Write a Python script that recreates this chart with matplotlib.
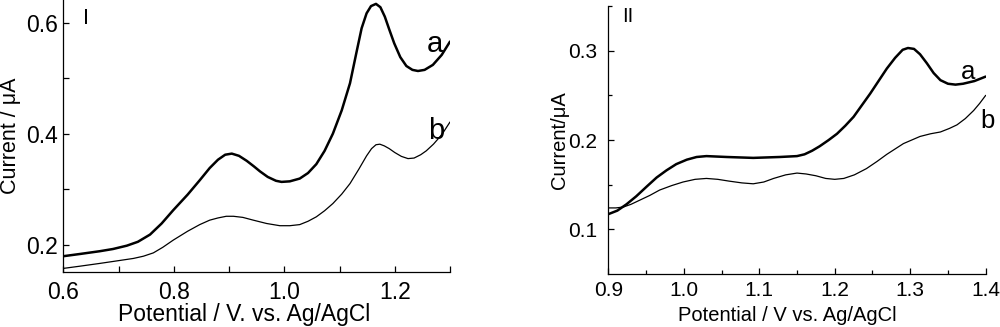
import matplotlib
matplotlib.use("Agg")
import matplotlib.pyplot as plt
from matplotlib.ticker import MultipleLocator, FixedLocator

plt.rcParams['font.family'] = ['Liberation Sans', 'DejaVu Sans']

# Panel I data
x1_a = [0.600, 0.630, 0.666, 0.690, 0.715, 0.735, 0.757, 0.778, 0.799, 0.825, 0.847, 0.865, 0.880,
        0.893, 0.905, 0.918, 0.932, 0.945, 0.956, 0.970, 0.985, 0.995, 1.010, 1.028, 1.043, 1.058,
        1.073, 1.088, 1.104, 1.119, 1.131, 1.140, 1.149, 1.157, 1.166, 1.174, 1.182, 1.190, 1.199,
        1.210, 1.221, 1.232, 1.242, 1.254, 1.269, 1.285, 1.300]
y1_a = [0.179, 0.183, 0.188, 0.192, 0.198, 0.205, 0.218, 0.238, 0.262, 0.290, 0.316, 0.338, 0.353,
        0.362, 0.364, 0.360, 0.351, 0.341, 0.332, 0.322, 0.315, 0.313, 0.314, 0.319, 0.329, 0.345,
        0.369, 0.400, 0.442, 0.491, 0.548, 0.590, 0.617, 0.630, 0.634, 0.628, 0.611, 0.588, 0.563,
        0.538, 0.522, 0.515, 0.513, 0.515, 0.524, 0.542, 0.566]

x1_b = [0.600, 0.630, 0.666, 0.700, 0.727, 0.745, 0.763, 0.780, 0.799, 0.825, 0.847, 0.865, 0.880,
        0.895, 0.908, 0.925, 0.944, 0.968, 0.992, 1.010, 1.028, 1.043, 1.058, 1.073, 1.088, 1.104,
        1.119, 1.135, 1.149, 1.158, 1.166, 1.173, 1.181, 1.190, 1.200, 1.212, 1.224, 1.235, 1.247,
        1.257, 1.270, 1.285, 1.300]
y1_b = [0.157, 0.161, 0.166, 0.171, 0.175, 0.179, 0.185, 0.195, 0.208, 0.224, 0.236, 0.244, 0.248,
        0.251, 0.251, 0.249, 0.244, 0.238, 0.234, 0.234, 0.236, 0.242, 0.250, 0.261, 0.274, 0.291,
        0.310, 0.336, 0.360, 0.373, 0.380, 0.381, 0.378, 0.373, 0.366, 0.359, 0.355, 0.356, 0.362,
        0.369, 0.381, 0.398, 0.421]

# Panel II data
x2_a = [0.900, 0.912, 0.924, 0.937, 0.951, 0.964, 0.977, 0.990, 1.004, 1.017, 1.030, 1.057, 1.092,
        1.127, 1.150, 1.160, 1.170, 1.180, 1.192, 1.203, 1.214, 1.225, 1.247, 1.269, 1.280, 1.290,
        1.297, 1.305, 1.313, 1.322, 1.331, 1.340, 1.350, 1.360, 1.370, 1.385, 1.400]
y2_a = [0.117, 0.121, 0.128, 0.137, 0.148, 0.158, 0.166, 0.173, 0.178, 0.181, 0.182, 0.181, 0.180,
        0.181, 0.182, 0.184, 0.188, 0.193, 0.200, 0.207, 0.216, 0.226, 0.252, 0.280, 0.292, 0.301,
        0.303, 0.302, 0.296, 0.286, 0.275, 0.267, 0.263, 0.262, 0.263, 0.266, 0.271]

x2_b = [0.900, 0.910, 0.920, 0.930, 0.940, 0.955, 0.968, 0.984, 0.999, 1.015, 1.030, 1.045, 1.060,
        1.077, 1.092, 1.106, 1.119, 1.135, 1.150, 1.162, 1.175, 1.188, 1.200, 1.212, 1.226, 1.242,
        1.256, 1.269, 1.280, 1.291, 1.302, 1.313, 1.327, 1.340, 1.352, 1.362, 1.373, 1.384, 1.392,
        1.400]
y2_b = [0.124, 0.124, 0.125, 0.128, 0.132, 0.138, 0.144, 0.149, 0.153, 0.156, 0.157, 0.156, 0.154,
        0.152, 0.151, 0.153, 0.157, 0.161, 0.163, 0.162, 0.160, 0.157, 0.156, 0.157, 0.161, 0.168,
        0.176, 0.184, 0.190, 0.196, 0.200, 0.204, 0.207, 0.209, 0.213, 0.217, 0.224, 0.233, 0.241,
        0.250]

fig = plt.figure(figsize=(10, 3.27), dpi=100)

ax1 = fig.add_axes([0.0633, 0.169, 0.3867, 0.831])
ax2 = fig.add_axes([0.6083, 0.162, 0.3774, 0.8196])

for ax in (ax1, ax2):
    ax.spines['top'].set_visible(False)
    ax.spines['right'].set_visible(False)
    for s in ('left', 'bottom'):
        ax.spines[s].set_linewidth(0.9)
    ax.tick_params(which='both', direction='in', width=0.9, colors='black')

fmt = plt.FuncFormatter(lambda v, p: f"{v:.1f}")

# Panel I
ax1.plot(x1_a, y1_a, color='black', lw=1.8, solid_joinstyle='round', solid_capstyle='round')
ax1.plot(x1_b, y1_b, color='black', lw=0.9, solid_joinstyle='round', solid_capstyle='round')
ax1.set_xlim(0.6, 1.3)
ax1.set_ylim(0.151, 0.641)
ax1.xaxis.set_major_locator(FixedLocator([0.6, 0.8, 1.0, 1.2]))
ax1.xaxis.set_minor_locator(FixedLocator([0.7, 0.9, 1.1, 1.3]))
ax1.yaxis.set_major_locator(FixedLocator([0.2, 0.4, 0.6]))
ax1.yaxis.set_minor_locator(FixedLocator([0.3, 0.5]))
ax1.tick_params(which='major', length=4.5, labelsize=16.5)
ax1.tick_params(which='minor', length=4.5)
ax1.tick_params(axis='x', which='major', pad=7)
ax1.tick_params(axis='y', which='major', pad=4)
ax1.xaxis.set_major_formatter(fmt)
ax1.yaxis.set_major_formatter(fmt)
ax1.set_xlabel('Potential / V. vs. Ag/AgCl', fontsize=16.5)
ax1.set_ylabel('Current / μA', fontsize=15.5, va='center')
ax1.xaxis.set_label_coords(0.467, -0.115)
ax1.yaxis.set_label_coords(-0.136, 0.5)
ax1.text(0.641, 0.608, 'I', fontsize=15.5, ha='center', va='center')
ax1.text(1.272, 0.562, 'a', fontsize=21, ha='center', va='center')
ax1.text(1.275, 0.405, 'b', fontsize=21, ha='center', va='center')

# Panel II
ax2.plot(x2_a, y2_a, color='black', lw=1.8, solid_joinstyle='round', solid_capstyle='round')
ax2.plot(x2_b, y2_b, color='black', lw=0.9, solid_joinstyle='round', solid_capstyle='round')
ax2.set_xlim(0.9, 1.4)
ax2.set_ylim(0.05, 0.35)
ax2.xaxis.set_major_locator(MultipleLocator(0.1))
ax2.xaxis.set_minor_locator(MultipleLocator(0.05))
ax2.yaxis.set_major_locator(FixedLocator([0.1, 0.2, 0.3]))
ax2.yaxis.set_minor_locator(FixedLocator([0.15, 0.25, 0.35]))
ax2.tick_params(which='major', length=4.5, labelsize=15)
ax2.tick_params(which='minor', length=3)
ax2.tick_params(axis='x', which='major', pad=5)
ax2.tick_params(axis='y', which='major', pad=8)
ax2.xaxis.set_major_formatter(fmt)
ax2.yaxis.set_major_formatter(fmt)
ax2.set_xlabel('Potential / V vs. Ag/AgCl', fontsize=14.5)
ax2.set_ylabel('Current/μA', fontsize=14.5, va='center')
ax2.xaxis.set_label_coords(0.475, -0.12)
ax2.yaxis.set_label_coords(-0.13, 0.5)
ax2.text(0.926, 0.338, 'II', fontsize=14.5, ha='center', va='center')
ax2.text(1.377, 0.276, 'a', fontsize=18.5, ha='center', va='center')
ax2.text(1.403, 0.221, 'b', fontsize=18.5, ha='center', va='center', clip_on=False)

fig.savefig('out.png', dpi=100)
